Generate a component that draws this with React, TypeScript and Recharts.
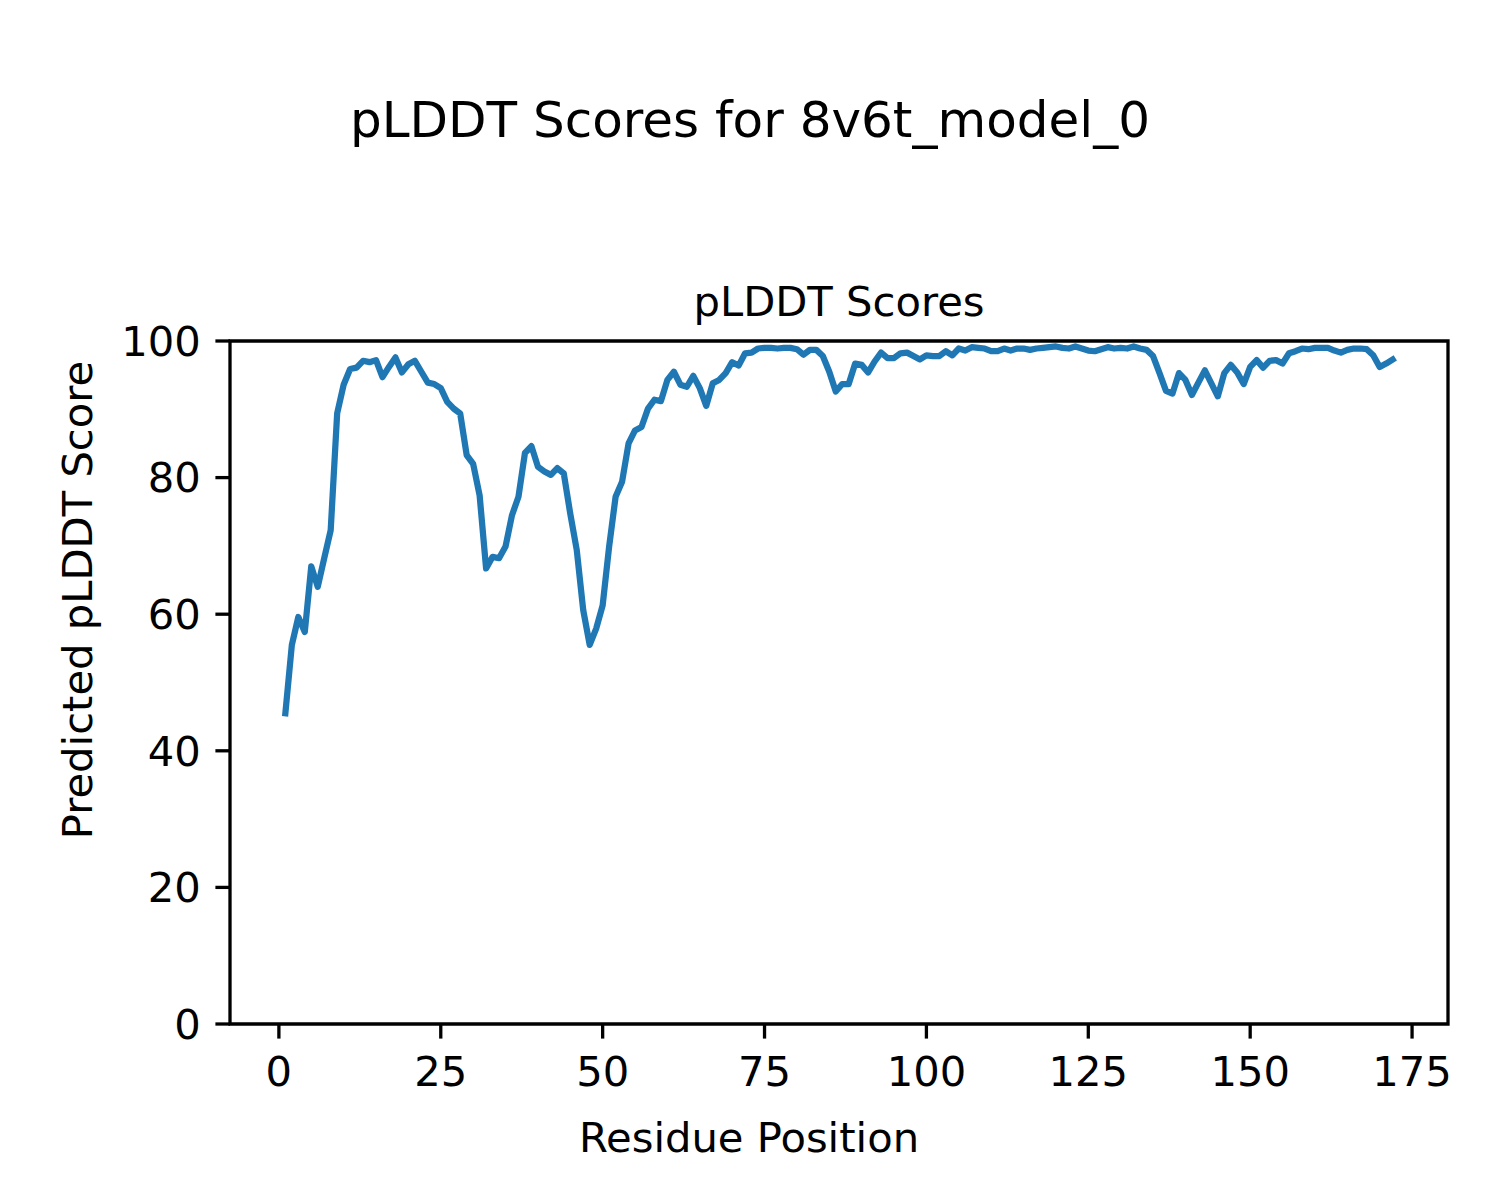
import React from "react";
import { LineChart, Line, XAxis, YAxis, ReferenceArea } from "recharts";

const scores: number[] = [
  45.5, 55.5, 59.6, 57.4, 67.0, 64.0, 68.2, 72.3, 89.4, 93.6,
  95.9, 96.1, 97.1, 96.9, 97.2, 94.7, 96.2, 97.6, 95.4, 96.6,
  97.1, 95.5, 93.9, 93.7, 93.1, 91.1, 90.1, 89.4, 83.3, 82.0,
  77.4, 66.7, 68.4, 68.2, 69.9, 74.5, 77.2, 83.6, 84.6, 81.6,
  80.9, 80.4, 81.4, 80.6, 74.7, 69.4, 60.6, 55.5, 57.9, 61.3,
  69.9, 77.2, 79.4, 85.0, 86.9, 87.4, 90.1, 91.4, 91.2, 94.3,
  95.5, 93.6, 93.3, 94.9, 93.1, 90.5, 93.8, 94.3, 95.3, 96.9,
  96.4, 98.2, 98.3, 98.9, 99.0, 99.0, 98.9, 99.0, 99.0, 98.8,
  98.0, 98.7, 98.7, 97.8, 95.5, 92.6, 93.7, 93.7, 96.7, 96.5,
  95.4, 97.0, 98.3, 97.5, 97.5, 98.2, 98.3, 97.8, 97.3, 97.9,
  97.8, 97.8, 98.5, 97.9, 98.9, 98.6, 99.1, 99.0, 98.9, 98.5,
  98.5, 98.9, 98.6, 98.9, 98.9, 98.7, 98.9, 99.0, 99.1, 99.2,
  99.0, 98.9, 99.2, 98.9, 98.6, 98.5, 98.8, 99.1, 98.9, 99.0,
  98.9, 99.2, 98.9, 98.7, 97.8, 95.3, 92.7, 92.3, 95.3, 94.3,
  92.1, 93.9, 95.7, 93.8, 91.9, 95.3, 96.5, 95.4, 93.7, 96.2,
  97.2, 96.1, 97.1, 97.2, 96.7, 98.2, 98.5, 98.9, 98.8, 99.0,
  99.0, 99.0, 98.6, 98.3, 98.7, 98.9, 98.9, 98.8, 97.9, 96.2,
  96.7, 97.3,
];

const xTicks: number[] = [0, 25, 50, 75, 100, 125, 150, 175];
const yTicks: number[] = [0, 20, 40, 60, 80, 100];
const xDomain: [number, number] = [-7.55, 180.55];
const yDomain: [number, number] = [0, 100];

const suptitle = "pLDDT Scores for 8v6t_model_0";
const axTitle = "pLDDT Scores";
const xLabel = "Residue Position";
const yLabel = "Predicted pLDDT Score";

const data = scores.map((s, i) => ({ residue: i + 1, score: s }));

const FONT = "'DejaVu Sans', sans-serif";
const TICK_FS = 41.7;

export default function App() {
  return (
    <div
      style={{
        position: "absolute",
        left: 0,
        top: 0,
        width: 1500,
        height: 1200,
        background: "#ffffff",
        fontFamily: FONT,
      }}
    >
      <LineChart
        width={1500}
        height={1200}
        data={data}
        margin={{ top: 341, right: 52, bottom: 116, left: 130 }}
      >
        <XAxis
          dataKey="residue"
          type="number"
          domain={xDomain}
          ticks={xTicks}
          allowDataOverflow
          height={60}
          axisLine={false}
          tickSize={14.6}
          tickMargin={18}
          tickLine={{ stroke: "#000", strokeWidth: 3.3 }}
          tick={{ fill: "#000", fontSize: TICK_FS, fontFamily: FONT }}
          interval={0}
        />
        <YAxis
          type="number"
          domain={yDomain}
          ticks={yTicks}
          allowDataOverflow
          width={100}
          axisLine={false}
          tickSize={14.6}
          tickMargin={14.5}
          tickLine={{ stroke: "#000", strokeWidth: 3.3 }}
          tick={{ fill: "#000", fontSize: TICK_FS, fontFamily: FONT }}
          interval={0}
        />
        <Line
          type="linear"
          dataKey="score"
          stroke="#1f77b4"
          strokeWidth={6.25}
          strokeLinejoin="round"
          strokeLinecap="square"
          dot={false}
          activeDot={false}
          isAnimationActive={false}
        />
        <ReferenceArea
          x1={xDomain[0]}
          x2={xDomain[1]}
          y1={yDomain[0]}
          y2={yDomain[1]}
          fill="none"
          fillOpacity={0}
          stroke="#000"
          strokeWidth={3.3}
          ifOverflow="visible"
        />
      </LineChart>
      <svg
        width={1500}
        height={1200}
        style={{ position: "absolute", left: 0, top: 0, pointerEvents: "none" }}
      >
        <text x={750} y={137} textAnchor="middle" fontSize={50} fontFamily={FONT} fill="#000">
          {suptitle}
        </text>
        <text x={839} y={316} textAnchor="middle" fontSize={41.7} fontFamily={FONT} fill="#000">
          {axTitle}
        </text>
        <text x={749} y={1152} textAnchor="middle" fontSize={41.7} fontFamily={FONT} fill="#000">
          {xLabel}
        </text>
        <text
          x={0}
          y={0}
          textAnchor="middle"
          fontSize={41.7}
          fontFamily={FONT}
          fill="#000"
          transform="translate(92,600) rotate(-90)"
        >
          {yLabel}
        </text>
      </svg>
    </div>
  );
}
